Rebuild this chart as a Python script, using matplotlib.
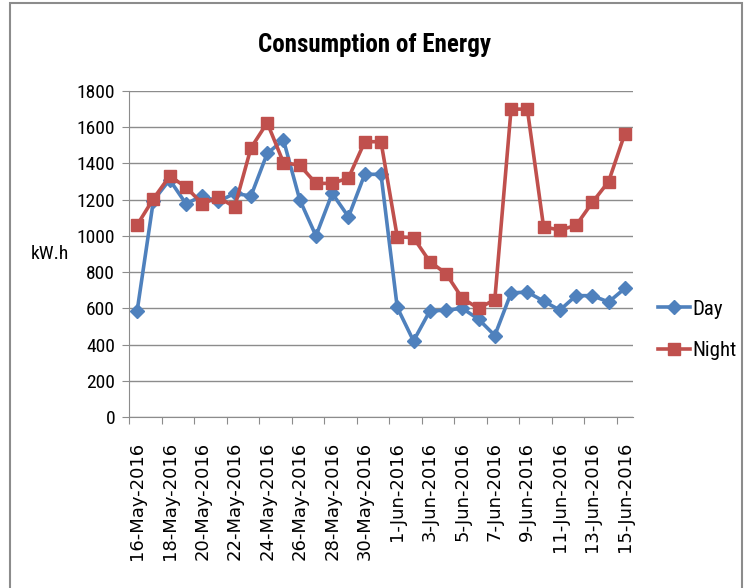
import matplotlib
matplotlib.use("Agg")
import matplotlib.pyplot as plt
from matplotlib import font_manager as fm
from matplotlib.font_manager import FontProperties
import numpy as np

dates = ["16-May-2016","17-May-2016","18-May-2016","19-May-2016","20-May-2016","21-May-2016",
         "22-May-2016","23-May-2016","24-May-2016","25-May-2016","26-May-2016","27-May-2016",
         "28-May-2016","29-May-2016","30-May-2016","31-May-2016","1-Jun-2016","2-Jun-2016",
         "3-Jun-2016","4-Jun-2016","5-Jun-2016","6-Jun-2016","7-Jun-2016","8-Jun-2016",
         "9-Jun-2016","10-Jun-2016","11-Jun-2016","12-Jun-2016","13-Jun-2016","14-Jun-2016",
         "15-Jun-2016"]
day = [585, 1195, 1310, 1178, 1220, 1190, 1235, 1220, 1455, 1530, 1200, 1000,
       1235, 1105, 1340, 1340, 605, 420, 585, 590, 600, 540, 450, 685,
       690, 640, 590, 670, 670, 635, 710]
night = [1060, 1205, 1330, 1270, 1178, 1212, 1160, 1485, 1625, 1405, 1390, 1290,
         1290, 1320, 1520, 1520, 995, 990, 858, 792, 655, 600, 648, 1700,
         1700, 1050, 1032, 1058, 1185, 1300, 1565]
yticks = [0, 200, 400, 600, 800, 1000, 1200, 1400, 1600, 1800]


def find_font(bold=False):
    ttf = fm.fontManager.ttflist
    for nm in ["Liberation Sans Narrow", "Roboto Condensed", "Open Sans Condensed",
               "Noto Sans Condensed", "DejaVu Sans"]:
        cands = [f for f in ttf if f.name == nm and f.style == "normal"
                 and ("condensed" in str(f.stretch).lower() or "Narrow" in nm
                      or "Condensed" in nm or str(f.stretch).isdigit() and int(f.stretch) < 500)]
        cands = [f for f in cands if (f.weight in ("bold", 700) if bold else f.weight in ("normal", "regular", 400))] or cands
        if cands:
            return FontProperties(fname=cands[0].fname)
    return FontProperties(family="Liberation Sans", weight="bold" if bold else "normal")


fp = find_font(False)
fpb = find_font(True)

def fprop(base, size):
    p = base.copy()
    p.set_size(size)
    return p

fig = plt.figure(figsize=(7.45, 5.88), dpi=100)
fig.patches.append(plt.Rectangle((10/745, -0.01), (742-10)/745, (588-3)/588 + 0.01,
                                 transform=fig.transFigure, fill=False,
                                 edgecolor="#8c8c8c", linewidth=1.5))
ax = fig.add_axes([129/745, 1-417/588, (633-129)/745, (417-91)/588])

x = np.arange(len(dates)) + 0.5
ax.plot(x, day, color="#4F81BD", lw=2.6, marker="D", ms=7, label="Day", zorder=3)
ax.plot(x, night, color="#C0504D", lw=2.6, marker="s", ms=9, label="Night", zorder=3)

ax.set_xlim(0, len(dates))
ax.set_ylim(0, 1800)
ax.set_yticks(yticks)
ax.set_yticklabels([str(v) for v in yticks], fontproperties=fprop(fp, 14))
ax.yaxis.grid(True, color="#8c8c8c", lw=1)
ax.set_axisbelow(True)

ax.set_xticks(np.arange(0, len(dates), 2))
ax.set_xticklabels([])
ax.set_xticks(x[::2], minor=True)
ax.set_xticklabels(dates[::2], minor=True, rotation=90,
                   fontproperties=FontProperties(family="DejaVu Sans", size=13))
ax.tick_params(axis="x", which="minor", length=0, pad=18)
ax.tick_params(axis="x", which="major", length=5, color="#8c8c8c")
ax.tick_params(axis="y", length=5, color="#8c8c8c", pad=5)

for s in ["top", "right"]:
    ax.spines[s].set_visible(False)
for s in ["left", "bottom"]:
    ax.spines[s].set_color("#8c8c8c")

fig.text(374/745, 1-45/588, "Consumption of Energy", ha="center", va="center",
         fontproperties=fprop(fpb, 18))
fig.text(50/745, 1-254/588, "kW.h", ha="center", va="center",
         fontproperties=fprop(fp, 14))

leg = fig.legend(loc="center left", bbox_to_anchor=(658/745, 1-330/588), frameon=False,
                 prop=fprop(fp, 15), handlelength=1.55, labelspacing=1.1,
                 handletextpad=0.1, borderaxespad=0, borderpad=0)

fig.savefig("out.png", dpi=100)
